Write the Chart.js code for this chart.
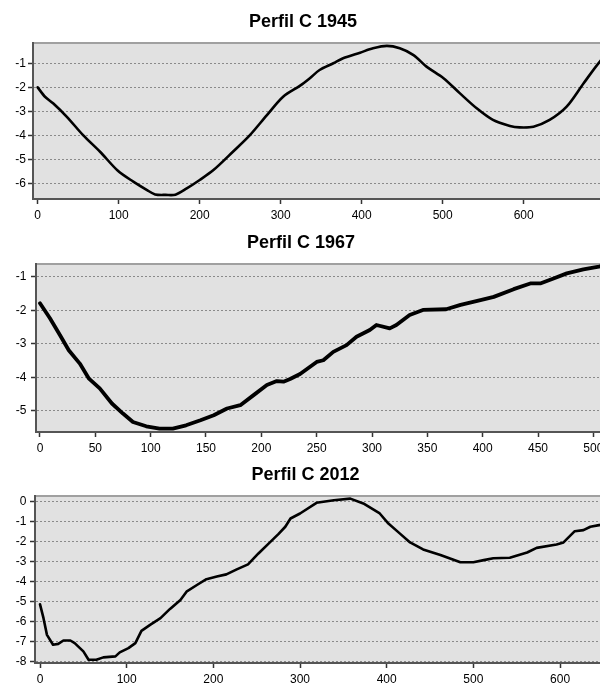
<!DOCTYPE html>
<html>
<head>
<meta charset="utf-8">
<script src="https://cdn.jsdelivr.net/npm/chart.js@4/dist/chart.umd.min.js"></script>
<style>
html, body { margin: 0; padding: 0; overflow: hidden; background: #fff; width: 600px; height: 684px; }
.box { position: absolute; left: 0; }
canvas { display: block; }
</style>
</head>
<body>
<div class="box" style="top:0px"><canvas id="c1" width="612" height="224"></canvas></div>
<div class="box" style="top:224px"><canvas id="c2" width="603" height="233"></canvas></div>
<div class="box" style="top:457px"><canvas id="c3" width="617" height="231"></canvas></div>
<script>
// ---- Data (distance vs. elevation) ----
const titles = ['Perfil C 1945', 'Perfil C 1967', 'Perfil C 2012'];

const dist1945 = [0, 9, 19, 36, 56, 77, 99, 118, 135, 145, 158, 170, 184, 200, 217, 241, 262, 283, 303, 324, 336, 348, 365, 377, 398, 414, 431, 447, 464, 480, 501, 521, 542, 562, 583, 595, 612, 632, 653, 674, 694, 705];
const elev1945 = [-2.0, -2.39, -2.66, -3.22, -3.98, -4.67, -5.46, -5.91, -6.26, -6.44, -6.46, -6.45, -6.19, -5.84, -5.43, -4.67, -3.98, -3.15, -2.39, -1.93, -1.62, -1.28, -1.0, -0.79, -0.56, -0.38, -0.28, -0.38, -0.66, -1.14, -1.62, -2.24, -2.87, -3.35, -3.6, -3.66, -3.63, -3.35, -2.8, -1.83, -0.93, -0.6];

const dist1967 = [0, 9, 18, 26, 36, 44, 54, 65, 75, 84, 96, 108, 120, 132, 145, 157, 169, 181, 193, 205, 214, 220, 226, 235, 250, 256, 265, 277, 286, 298, 304, 316, 322, 334, 346, 367, 380, 398, 410, 428, 443, 452, 464, 476, 491, 505, 512];
const elev1967 = [-1.79, -2.24, -2.74, -3.19, -3.59, -4.03, -4.33, -4.78, -5.08, -5.33, -5.46, -5.53, -5.53, -5.43, -5.28, -5.13, -4.93, -4.83, -4.53, -4.23, -4.11, -4.13, -4.05, -3.9, -3.54, -3.49, -3.24, -3.04, -2.79, -2.59, -2.44, -2.54, -2.44, -2.14, -1.99, -1.97, -1.84, -1.7, -1.6, -1.37, -1.2, -1.2, -1.05, -0.9, -0.78, -0.7, -0.65];

const dist2012 = [0, 4, 8, 15, 21, 27, 35, 40, 50, 56, 65, 73, 87, 92, 102, 110, 117, 127, 139, 150, 162, 169, 181, 192, 204, 215, 227, 240, 252, 264, 275, 283, 289, 300, 319, 339, 358, 373, 392, 402, 415, 427, 442, 462, 485, 500, 512, 523, 542, 562, 573, 596, 604, 617, 627, 635, 645, 660];
const elev2012 = [-5.13, -5.82, -6.65, -7.14, -7.1, -6.93, -6.93, -7.06, -7.47, -7.89, -7.89, -7.77, -7.72, -7.52, -7.31, -7.06, -6.45, -6.15, -5.82, -5.36, -4.91, -4.5, -4.17, -3.88, -3.75, -3.64, -3.39, -3.14, -2.6, -2.1, -1.64, -1.27, -0.86, -0.61, -0.08, 0.05, 0.13, -0.11, -0.61, -1.11, -1.6, -2.05, -2.4, -2.68, -3.04, -3.04, -2.93, -2.84, -2.81, -2.55, -2.32, -2.15, -2.05, -1.49, -1.44, -1.27, -1.19, -1.1];

const xTicks1945 = [0, 100, 200, 300, 400, 500, 600];
const yTicks1945 = [-6, -5, -4, -3, -2, -1];
const xTicks1967 = [0, 50, 100, 150, 200, 250, 300, 350, 400, 450, 500];
const yTicks1967 = [-5, -4, -3, -2, -1];
const xTicks2012 = [0, 100, 200, 300, 400, 500, 600];
const yTicks2012 = [-8, -7, -6, -5, -4, -3, -2, -1, 0];

// ---- Styling / layout ----
const FONT = '"Liberation Sans", Arial, Helvetica, sans-serif';

const plotBg = {
  id: 'plotBg',
  beforeDraw(chart) {
    const { ctx, chartArea: { left, top, right, bottom } } = chart;
    ctx.save();
    ctx.fillStyle = '#e1e1e1';
    ctx.fillRect(left, top, right - left, bottom - top);
    ctx.strokeStyle = '#a0a0a0';
    ctx.lineWidth = 2;
    ctx.strokeRect(left, top, right - left, bottom - top);
    ctx.restore();
  }
};

function makeChart(id, cfg) {
  const pts = cfg.xs.map((x, i) => ({ x: x, y: cfg.ys[i] }));
  return new Chart(document.getElementById(id), {
    type: 'line',
    data: {
      datasets: [{
        data: pts,
        borderColor: '#000',
        borderWidth: cfg.lw,
        pointRadius: 0,
        tension: cfg.tension,
        borderJoinStyle: 'round',
        borderCapStyle: 'round',
        fill: false
      }]
    },
    options: {
      responsive: false,
      animation: false,
      devicePixelRatio: 1,
      layout: { padding: { left: 0, right: cfg.padRight, top: 0, bottom: 0 } },
      plugins: {
        legend: { display: false },
        tooltip: { enabled: false },
        title: {
          display: true,
          text: cfg.title,
          color: '#000',
          font: { family: FONT, size: 18, weight: 'bold', lineHeight: 1.2 },
          padding: { top: cfg.tPadTop, bottom: cfg.tPadBottom }
        }
      },
      scales: {
        x: {
          type: 'linear',
          min: cfg.xmin, max: cfg.xmax,
          afterBuildTicks: s => { s.ticks = cfg.xTicks.map(v => ({ value: v })); },
          afterFit: s => { s.height = 25; s.paddingLeft = 0; s.paddingRight = 0; },
          grid: { drawOnChartArea: false, drawTicks: true, tickLength: 5, tickColor: '#333', tickWidth: 1.5 },
          border: { display: true, color: '#555', width: 2 },
          ticks: { font: { family: FONT, size: 12 }, color: '#000', padding: 4, maxRotation: 0, autoSkip: false }
        },
        y: {
          type: 'linear',
          min: cfg.ymin, max: cfg.ymax,
          afterBuildTicks: s => { s.ticks = cfg.yTicks.map(v => ({ value: v })); },
          afterFit: s => { s.width = cfg.yWidth; s.paddingTop = 0; s.paddingBottom = 0; },
          grid: { drawOnChartArea: true, color: '#8a8a8a', lineWidth: 1, drawTicks: true, tickLength: 5, tickColor: '#333', tickWidth: 1.5, tickBorderDash: [] },
          border: { display: true, color: '#555', width: 2, dash: [2, 2] },
          ticks: { font: { family: FONT, size: 12 }, color: '#000', padding: cfg.yPad, autoSkip: false }
        }
      }
    },
    plugins: [plotBg]
  });
}

makeChart('c1', {
  title: titles[0], xs: dist1945, ys: elev1945, lw: 2.6, tension: 0.3,
  xmin: -5.8, xmax: 701.6, ymin: -6.63, ymax: -0.16,
  xTicks: xTicks1945, yTicks: yTicks1945,
  yWidth: 33, yPad: 2, padRight: 6, tPadTop: 11.2, tPadBottom: 10.2
});
makeChart('c2', {
  title: titles[1], xs: dist1967, ys: elev1967, lw: 3.8, tension: 0,
  xmin: -3.6, xmax: 507.8, ymin: -5.63, ymax: -0.62,
  xTicks: xTicks1967, yTicks: yTicks1967,
  yWidth: 36, yPad: 4.5, padRight: 1, tPadTop: 8.2, tPadBottom: 10.2
});
makeChart('c3', {
  title: titles[2], xs: dist2012, ys: elev2012, lw: 2.6, tension: 0,
  xmin: -5.8, xmax: 658.8, ymin: -8.05, ymax: 0.26,
  xTicks: xTicks2012, yTicks: yTicks2012,
  yWidth: 35, yPad: 3.5, padRight: 6, tPadTop: 7.2, tPadBottom: 10.2
});
</script>
</body>
</html>
